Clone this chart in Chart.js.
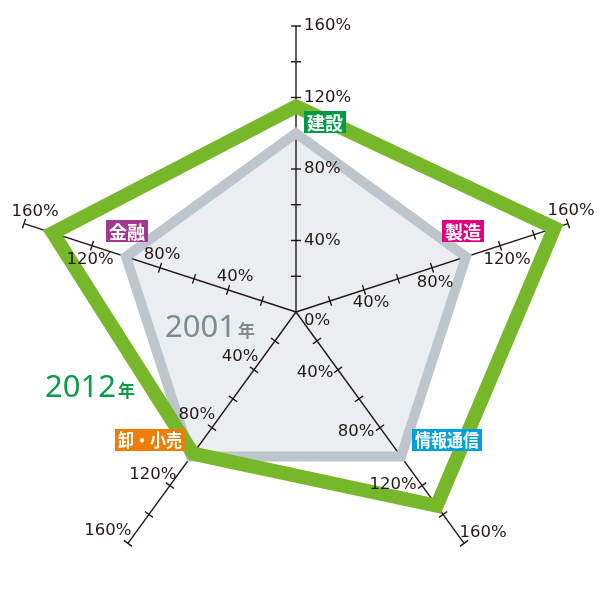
<!DOCTYPE html>
<html lang="ja">
<head>
<meta charset="utf-8">
<title>2001年・2012年 業種別レーダーチャート</title>
<script src="https://cdn.jsdelivr.net/npm/chart.js@4.4.1/dist/chart.umd.min.js"></script>
<style>
    html, body { margin: 0; padding: 0; background: #fff; }
    canvas { display: block; }
</style>
</head>
<body>
<canvas id="radar-canvas" width="600" height="600"></canvas>
<script>
// Data (index vs. 2001 = 100%)
const categories = ['建設', '製造', '情報通信', '卸・小売', '金融'];
const values2001 = [100, 100, 100, 100, 100];
const values2012 = [115, 152, 134, 98, 143];
const tickMarks = [20, 40, 60, 80, 100, 120, 140, 160];
const tickLabels = [40, 80, 120, 160];
const seriesNames = ['2001', '2012'];

const INK = '#231815';

// per-axis placement of the % labels, relative to the tick position
const tickLabelOffsets = [
    [[8, 0], [8, 0], [8, 0], [8, 0]],            // top: left-aligned to the right
    [[7, 13], [3, 15], [7, 14], [3, -13]],
    [[-23, 3], [-24, 4], [-29, -1], [19, -11]],
    [[-14, -13], [-15, -13], [-17, -11], [-20, -13]],
    [[7, -13], [2, -13], [-2, 14], [11, -12]]
];

// category tags, offset from the 100% point of each axis
const tagStyles = [
    { color: '#009a44', dx: 29, dy: -11 },
    { color: '#e4007f', dx: -3, dy: -26 },
    { color: '#00a0db', dx: 46, dy: -17 },
    { color: '#ef7d00', dx: -41, dy: -17 },
    { color: '#a3398f', dx: 1, dy: -26 }
];

/**
 * Draws axis lines and tick marks between the fill and the outlines.
 */
const axesPlugin = {
    id: 'axes',
    beforeDatasetsDraw(chart) {
        const r = chart.scales.r;
        const ctx = chart.ctx;
        ctx.save();
        ctx.strokeStyle = INK;
        ctx.lineWidth = 1.4;
        categories.forEach((name, i) => {
            const end = r.getPointPositionForValue(i, 160);
            ctx.beginPath();
            ctx.moveTo(r.xCenter, r.yCenter);
            ctx.lineTo(end.x, end.y);
            ctx.stroke();

            const nx = -Math.sin(end.angle);
            const ny = Math.cos(end.angle);
            tickMarks.forEach(v => {
                const p = r.getPointPositionForValue(i, v);
                ctx.beginPath();
                ctx.moveTo(p.x - nx * 5, p.y - ny * 5);
                ctx.lineTo(p.x + nx * 5, p.y + ny * 5);
                ctx.stroke();
            });
        });
        ctx.restore();
    },
    afterDatasetsDraw(chart) {
        const r = chart.scales.r;
        const ctx = chart.ctx;
        ctx.save();

        // % labels on every axis
        ctx.fillStyle = INK;
        ctx.font = '16.5px "DejaVu Sans", sans-serif';
        ctx.textBaseline = 'middle';
        categories.forEach((name, i) => {
            tickLabels.forEach((v, k) => {
                const p = r.getPointPositionForValue(i, v);
                const [dx, dy] = tickLabelOffsets[i][k];
                ctx.textAlign = i === 0 ? 'left' : 'center';
                ctx.fillText(v + '%', p.x + dx, p.y + dy);
            });
        });
        ctx.textAlign = 'left';
        ctx.fillText('0%', r.xCenter + 8, r.yCenter + 9);

        // category tags
        ctx.font = 'bold 18px "Noto Sans CJK JP", sans-serif';
        ctx.textAlign = 'center';
        categories.forEach((name, i) => {
            const p = r.getPointPositionForValue(i, 100);
            const s = tagStyles[i];
            const cx = p.x + s.dx;
            const cy = p.y + s.dy;
            const textW = Math.min(ctx.measureText(name).width, name.length > 2 ? 64 : 40);
            const w = textW + 6;
            const h = 22;
            ctx.fillStyle = s.color;
            ctx.fillRect(Math.round(cx - w / 2), Math.round(cy - h / 2), Math.round(w), h);
            ctx.fillStyle = '#fff';
            ctx.fillText(name, cx, cy + 1, textW);
        });

        // series captions
        const drawCaption = (year, x, y, color) => {
            ctx.fillStyle = color;
            ctx.textAlign = 'left';
            ctx.textBaseline = 'alphabetic';
            ctx.font = '31px "Noto Sans", sans-serif';
            ctx.fillText(year, x, y);
            const w = ctx.measureText(year).width;
            ctx.font = 'bold 17px "Noto Sans CJK JP", sans-serif';
            ctx.fillText('年', x + w + 2, y);
        };
        drawCaption(seriesNames[0], r.xCenter - 131, r.yCenter + 25, '#7f8a91');
        drawCaption(seriesNames[1], r.xCenter - 251, r.yCenter + 85, '#0b9a47');

        ctx.restore();
    }
};

const ctx = document.getElementById('radar-canvas').getContext('2d');
new Chart(ctx, {
    type: 'radar',
    data: {
        labels: categories,
        datasets: [{
            label: seriesNames[1] + '年',
            data: values2012,
            borderColor: '#77b82b',
            borderWidth: 14,
            borderJoinStyle: 'miter',
            fill: false,
            pointRadius: 0,
            pointHoverRadius: 0,
            tension: 0
        }, {
            label: seriesNames[0] + '年',
            data: values2001,
            borderColor: '#bdc6cc',
            backgroundColor: '#eaeef1',
            borderWidth: 10,
            borderJoinStyle: 'miter',
            fill: true,
            pointRadius: 0,
            pointHoverRadius: 0,
            tension: 0
        }]
    },
    options: {
        responsive: false,
        animation: false,
        layout: {
            padding: { left: 10, right: 18, top: 26, bottom: 2 }
        },
        scales: {
            r: {
                min: 0,
                max: 160,
                grid: { display: false },
                angleLines: { display: false },
                ticks: { display: false, stepSize: 20 },
                pointLabels: { display: false }
            }
        },
        plugins: {
            legend: { display: false },
            tooltip: { enabled: false },
            filler: { drawTime: 'beforeDatasetsDraw' }
        }
    },
    plugins: [axesPlugin]
});
</script>
</body>
</html>
